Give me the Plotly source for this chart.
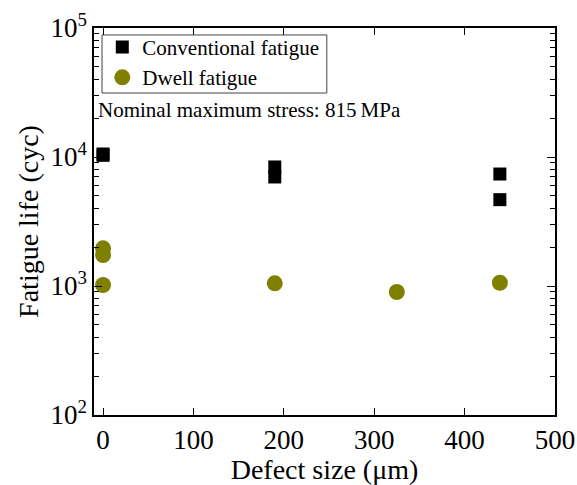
import plotly.graph_objects as go

conv_x = [0, 0, 190, 190, 439, 439]
conv_y = [10550, 10300, 8370, 7000, 7380, 4670]
dwell_x = [0, 0, 0, 190, 325, 439]
dwell_y = [1959, 1740, 1018, 1049, 898, 1060]
major_y = [100, 1000, 10000, 100000]
major_text = ["10<sup>2</sup>", "10<sup>3</sup>", "10<sup>4</sup>", "10<sup>5</sup>"]
minor_y = [m * 10 ** e for e in (2, 3, 4) for m in range(2, 10)]

FONT = "Liberation Serif"

fig = go.Figure()
fig.add_trace(go.Scatter(x=conv_x, y=conv_y, mode="markers", name="Conventional fatigue",
                         marker=dict(symbol="square", size=13, color="black")))
fig.add_trace(go.Scatter(x=dwell_x, y=dwell_y, mode="markers", name="Dwell fatigue",
                         marker=dict(symbol="circle", size=16, color="#808000")))
# invisible trace anchoring the minor-tick axis
fig.add_trace(go.Scatter(x=[None], y=[None], yaxis="y2", showlegend=False, hoverinfo="skip"))

# legend frame
fig.add_shape(type="rect", xref="paper", yref="paper", x0=0.0174, x1=0.505, y0=0.832, y1=0.982,
              line=dict(color="#444", width=1), fillcolor="rgba(0,0,0,0)")

fig.add_annotation(text="Nominal maximum stress: 815\u2009MPa", xref="paper", yref="paper",
                   x=0.0, y=0.788, xanchor="left", yanchor="middle", showarrow=False,
                   xshift=2, font=dict(family=FONT, size=21, color="black"))

fig.update_layout(
    width=577, height=485,
    margin=dict(l=94, r=22, t=28, b=70),
    paper_bgcolor="white", plot_bgcolor="white",
    font=dict(family=FONT, color="black"),
    showlegend=True,
    legend=dict(x=0.018, y=1.003, xanchor="left", yanchor="top",
                borderwidth=0, bgcolor="rgba(0,0,0,0)",
                font=dict(family=FONT, size=21), itemwidth=30, tracegroupgap=0),
    xaxis=dict(range=[-10, 500], tickvals=[0, 100, 200, 300, 400, 500],
               ticks="inside", ticklen=7, tickwidth=1, tickcolor="black",
               showline=True, linecolor="black", linewidth=1.5, mirror="ticks",
               showgrid=False, zeroline=False, automargin=False,
               tickfont=dict(family=FONT, size=27),
               title=dict(text="Defect size (\u03bcm)", font=dict(family=FONT, size=28), standoff=4)),
    yaxis=dict(type="log", range=[2, 5], tickmode="array", tickvals=major_y, ticktext=major_text,
               ticks="inside", ticklen=8, tickwidth=1, tickcolor="black",
               showline=True, linecolor="black", linewidth=1.5, mirror="ticks",
               showgrid=False, zeroline=False, automargin=False,
               tickfont=dict(family=FONT, size=27),
               title=dict(text="Fatigue life (cyc)", font=dict(family=FONT, size=28), standoff=4)),
    yaxis2=dict(type="log", range=[2, 5], overlaying="y", side="left", anchor="x",
                tickmode="array", tickvals=minor_y, showticklabels=False,
                ticks="inside", ticklen=5, tickwidth=1, tickcolor="black",
                showline=True, linecolor="black", linewidth=1.5, mirror="ticks",
                showgrid=False, zeroline=False, automargin=False),
)

fig.write_html("out.html")
